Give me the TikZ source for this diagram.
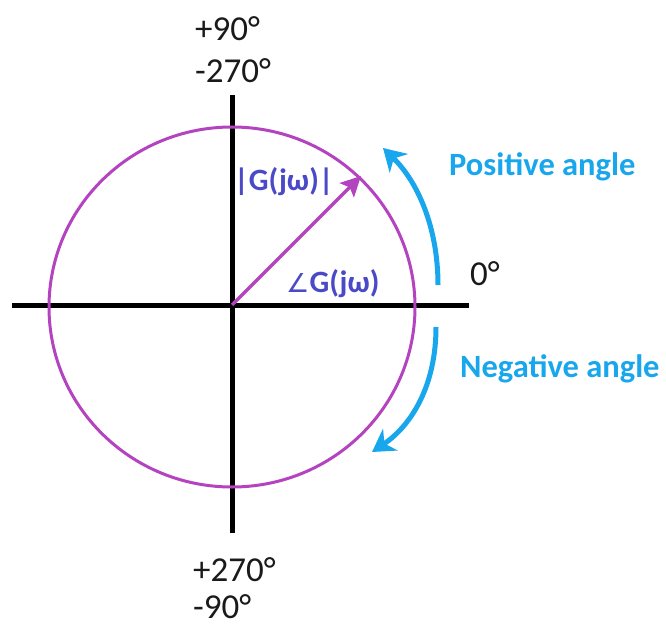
\documentclass[tikz,border=0pt]{standalone}
\usepackage{fontspec}
\setmainfont{Carlito}
\newfontfamily\symfont{DejaVu Sans}
\usetikzlibrary{arrows.meta}
\definecolor{axis}{HTML}{000000}
\definecolor{mag}{HTML}{B443C0}
\definecolor{lblue}{HTML}{18A6EC}
\definecolor{gblue}{HTML}{4A4AC8}
\definecolor{txt}{HTML}{1A1A1A}
\tikzset{
  axisline/.style={line width=5pt, draw=axis},
  degtext/.style={font=\fontsize{35}{35}\selectfont, text=txt, inner sep=0pt},
  glabel/.style={font=\bfseries\fontsize{31}{31}\selectfont, text=gblue, inner sep=0pt},
  dirtext/.style={font=\bfseries\fontsize{32.5}{32.5}\selectfont, text=lblue, inner sep=0pt},
  dirarrow/.style={line width=5pt, draw=lblue, -{Stealth[length=22pt,width=26pt,inset=7pt]}},
}
\begin{document}
\begin{tikzpicture}[x=1pt,y=-1pt]
\path[use as bounding box] (0,0) rectangle (666,628);
% axes
\coordinate (L) at (12,305);
\coordinate (R) at (469,305);
\coordinate (T) at (232,95);
\coordinate (B) at (232,533);
\coordinate (O) at (232,305);
\draw[axisline] (L) -- (R);
\draw[axisline] (T) -- (B);
% circle
\draw[mag, line width=3pt] (232,307) ellipse [x radius=183, y radius=180];
% phasor
\coordinate (P) at (361,176);
\draw[mag, line width=3.5pt, -{Stealth[length=20pt,width=20pt,inset=4pt]}] (O) -- (P);
% labels
\node[degtext, anchor=west] (p90) at (195,29) {+90°};
\node[degtext, anchor=west] (m270) at (195,71) {-270°};
\node[degtext, anchor=west] (p270) at (193,570) {+270°};
\node[degtext, anchor=west] (m90) at (193,607) {-90°};
\node[degtext, anchor=west] (zero) at (470,274) {0°};
\node[glabel, anchor=west] (mag) at (234,182) {|G(jω)|};
\node[glabel, anchor=west] (ang) at (286,284) {{\mdseries\symfont\fontsize{26}{26}\selectfont ∠}G(jω)};
\node[dirtext, anchor=west] (pos) at (449,167) {Positive angle};
\node[dirtext, anchor=west] (neg) at (460,369) {Negative angle};
% direction arrows
\coordinate (ps) at (438,285);
\coordinate (pe) at (383,148);
\coordinate (ns) at (436,327);
\coordinate (ne) at (372,452);
\draw[dirarrow] (ps) .. controls (438,228) and (418,182) .. (pe);
\draw[dirarrow] (ns) .. controls (436,385) and (412,425) .. (ne);
\end{tikzpicture}
\end{document}
